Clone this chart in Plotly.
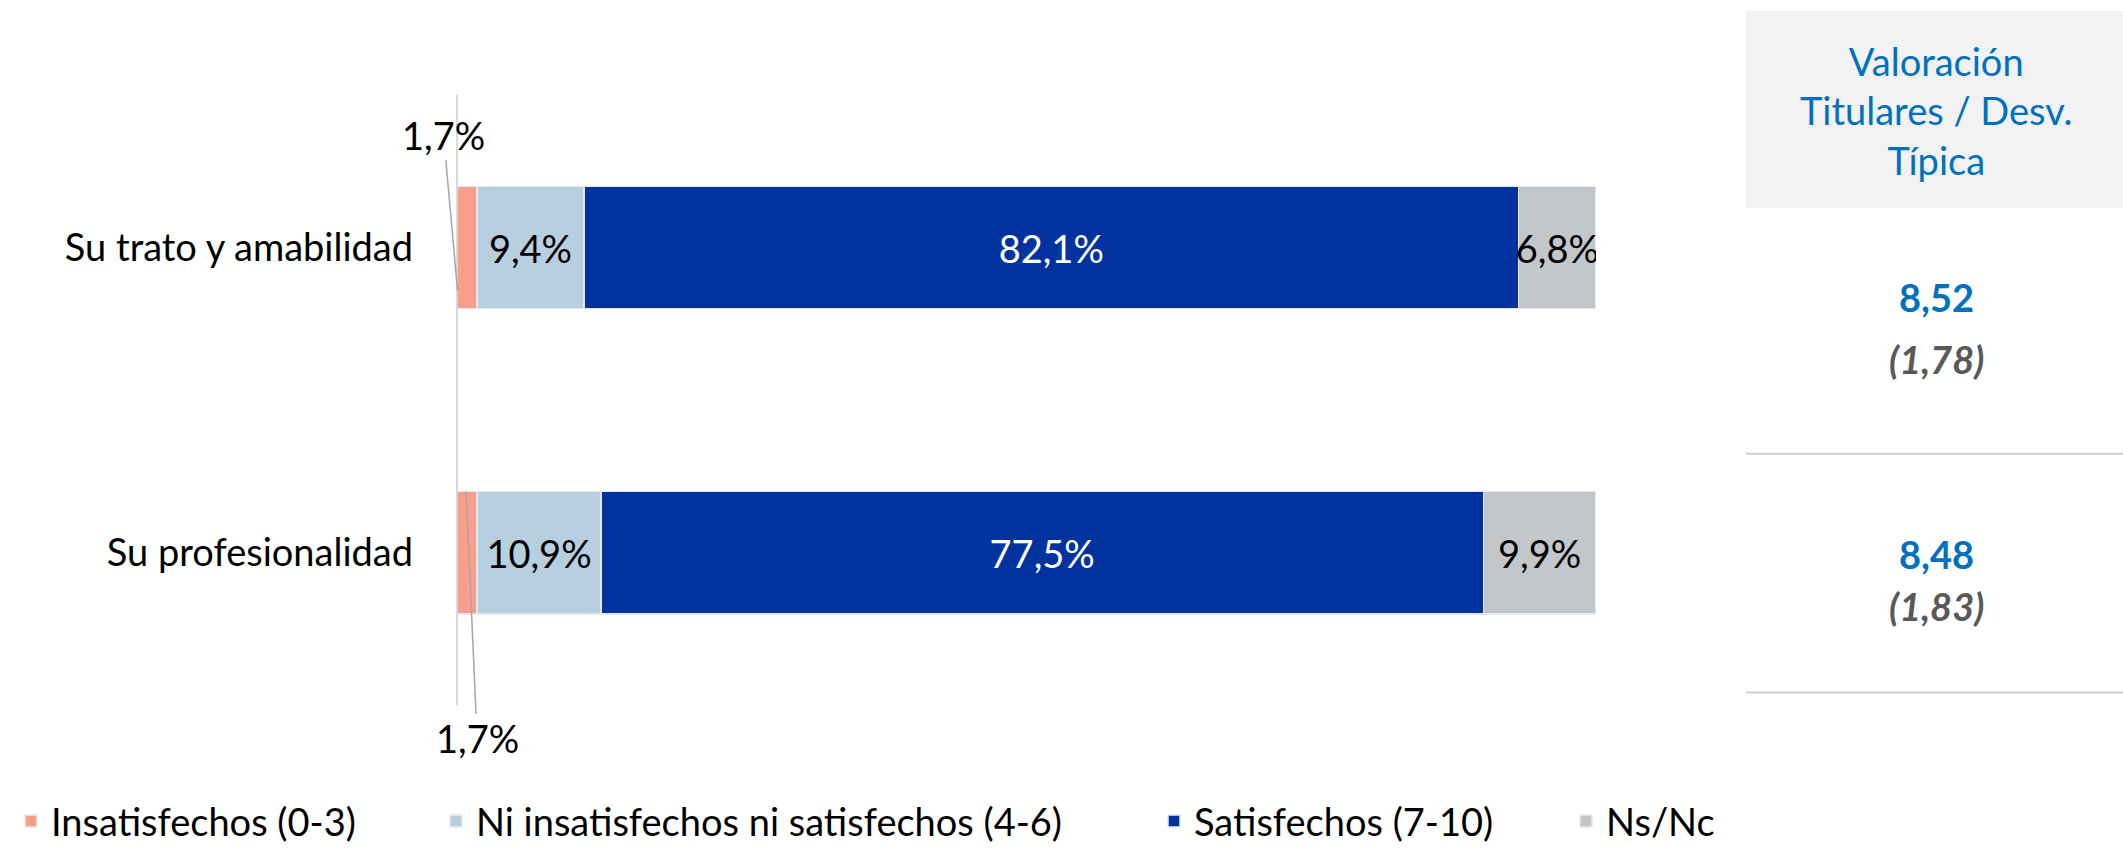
import plotly.graph_objects as go

# ---------------- data ----------------
categories = ["Su trato y amabilidad", "Su profesionalidad"]
series_names = ["Insatisfechos (0-3)", "Ni insatisfechos ni satisfechos (4-6)",
                "Satisfechos (7-10)", "Ns/Nc"]
insatisfechos = [1.7, 1.7]
ni_ni = [9.4, 10.9]
satisfechos = [82.1, 77.5]
ns_nc = [6.8, 9.9]
valoracion = ["8,52", "8,48"]
desviacion = ["(1,78)", "(1,83)"]
header_text = "Valoración<br>Titulares / Desv.<br>Típica"

# ---------------- styles ----------------
W, H = 2123, 853
FONT = "Lato"
FS = 38
colors = ["#F89E8A", "#B7CFDF", "#0033A0", "#C4C7CA"]
text_colors = ["black", "black", "white", "black"]
series = [insatisfechos, ni_ni, satisfechos, ns_nc]


def fmt(v):
    return f"{v:.1f}".replace(".", ",") + "%"


fig = go.Figure()
legend_ids = ["legend", "legend2", "legend3", "legend4"]
for i, (name, vals) in enumerate(zip(series_names, series)):
    fig.add_trace(go.Bar(
        orientation="h",
        y=categories,
        x=vals,
        name=name,
        marker=dict(color=colors[i], line=dict(color="#E6EAF0", width=1.5)),
        text=[fmt(v) for v in vals] if i > 0 else None,
        textposition="inside" if i > 0 else "none",
        insidetextanchor="middle",
        textangle=0,
        constraintext="none",
        textfont=dict(family=FONT, size=FS, color=text_colors[i]),
        legend=legend_ids[i],
        hoverinfo="skip",
    ))

px = lambda x: x / W
py = lambda y: 1 - y / H

# leader-line labels for the small "Insatisfechos" segments
annotations = [
    dict(x=0, y=1 - 44 / 308, xref="x", yref="y", text=fmt(insatisfechos[0]),
         showarrow=True, arrowhead=0, arrowwidth=1.5, arrowcolor="#A6A6A6",
         ax=-14, ay=-156, font=dict(family=FONT, size=FS, color="black")),
    dict(x=insatisfechos[1] / 2 - 0.1, y=0 + 62 / 308, xref="x", yref="y", text=fmt(insatisfechos[1]),
         showarrow=True, arrowhead=0, arrowwidth=1.5, arrowcolor="#A6A6A6",
         ax=11, ay=247, font=dict(family=FONT, size=FS, color="black")),
]

# right-hand table
annotations.append(dict(x=px(1936), y=py(112), xref="paper", yref="paper",
                        xanchor="center", yanchor="middle",
                        text=header_text, showarrow=False, align="center",
                        font=dict(family=FONT, size=FS, color="#0070C0")))
val_y = [300, 559]
desv_y = [362, 612]
for v, d, yv, yd in zip(valoracion, desviacion, val_y, desv_y):
    annotations.append(dict(x=px(1936), y=py(yv), xref="paper", yref="paper",
                            xanchor="center", yanchor="middle",
                            text=f"<b>{v}</b>", showarrow=False,
                            font=dict(family=FONT, size=FS, color="#0070C0")))
    annotations.append(dict(x=px(1936), y=py(yd), xref="paper", yref="paper",
                            xanchor="center", yanchor="middle",
                            text=f"<b><i>{d}</i></b>", showarrow=False,
                            font=dict(family=FONT, size=FS, color="#595959")))

shapes = [
    dict(type="rect", xref="paper", yref="paper", x0=px(1746), x1=1, y0=py(210), y1=py(11),
         fillcolor="#F2F2F2", line=dict(width=0), layer="below"),
    dict(type="line", xref="paper", yref="paper", x0=px(1746), x1=1, y0=py(458), y1=py(458),
         line=dict(color="#D0D0D0", width=2)),
    dict(type="line", xref="paper", yref="paper", x0=px(1746), x1=1, y0=py(699), y1=py(699),
         line=dict(color="#D0D0D0", width=2)),
]

legend_text_x = [51, 476, 1194, 1606]
legend_common = dict(orientation="h", yanchor="middle", y=py(829), xanchor="left",
                     font=dict(family=FONT, size=FS, color="black"),
                     bgcolor="rgba(0,0,0,0)", borderwidth=0, itemclick=False)
layout_legends = {}
for lid, tx in zip(legend_ids, legend_text_x):
    layout_legends[lid] = dict(legend_common, x=px(tx - 40))

fig.update_layout(
    width=W, height=H,
    margin=dict(l=0, r=0, t=0, b=0),
    paper_bgcolor="white", plot_bgcolor="white",
    barmode="stack", bargap=0.6,
    showlegend=True,
    font=dict(family=FONT, size=FS, color="black"),
    xaxis=dict(domain=[px(457.6), px(1596)], range=[0, 100], visible=False, fixedrange=True),
    yaxis=dict(domain=[py(712), py(96)], range=[-0.5, 1.5], type="category",
               categoryorder="array", categoryarray=categories[::-1],
               showline=True, linecolor="#D9D9D9", linewidth=2, showgrid=False,
               zeroline=False, ticks="", ticklabelstandoff=35,
               tickfont=dict(family=FONT, size=FS, color="black"), fixedrange=True),
    annotations=annotations,
    shapes=shapes,
    **layout_legends,
)

fig.write_html("out.html", config={"displayModeBar": False},
               post_script="document.body.style.margin='0px';")
